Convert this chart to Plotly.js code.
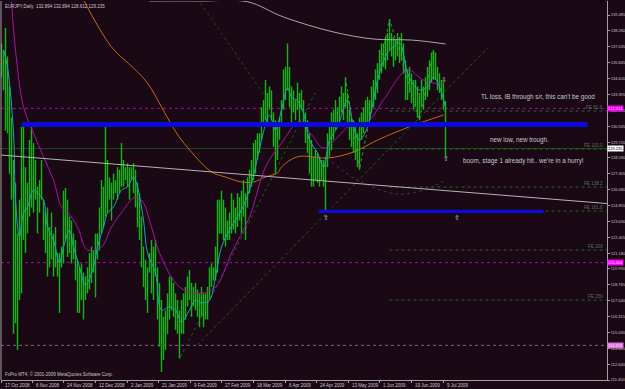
<!DOCTYPE html>
<html><head><meta charset="utf-8">
<script src="https://cdn.plot.ly/plotly-3.0.1.min.js"></script>
<style>html,body{margin:0;padding:0;background:#1a0814;}#c{width:625px;height:389px;}</style>
</head><body><div id="c"></div>
<script>
// ---- data (EURJPY daily, 17 Oct 2008 .. 9 Jul 2009) ----
const dateLabels = ["17 Oct 2008","6 Nov 2008","24 Nov 2008","12 Dec 2008","2 Jan 2009","21 Jan 2009","9 Feb 2009","27 Feb 2009","18 Mar 2009","6 Apr 2009","24 Apr 2009","13 May 2009","1 Jun 2009","19 Jun 2009","9 Jul 2009"];
const dateTickBar = [0,15.5,31,47,63,78.5,94.5,110,126,142,157.5,173.5,189,205,221];

const highs = [137.3,136.8,138.5,136.3,134.0,131.6,128.35,126.6,122.7,125.3,
130.9,130.9,127.8,126.6,129.9,130.9,129.65,128.35,126.3,126.8,
128.35,125.3,124.3,124.7,123.2,124.3,122.7,123.2,121.2,121.2,
121.7,126.0,126.2,125.3,124.0,123.7,122.7,122.2,120.7,120.1,
120.4,119.7,119.4,120.1,121.2,121.7,121.4,122.7,122.7,124.7,
126.8,126.3,131.0,128.35,127.0,126.6,127.3,126.8,127.8,127.6,
129.65,128.35,127.8,128.1,127.8,127.8,128.1,127.6,126.6,125.8,
124.0,121.7,120.7,120.1,121.2,122.2,121.7,122.2,120.1,118.9,
117.6,116.3,116.8,118.1,119.4,119.4,118.9,118.1,117.6,116.8,
117.6,118.1,118.6,119.4,119.9,118.9,118.6,118.9,118.4,118.1,
118.6,118.1,118.1,118.6,120.1,120.4,120.1,121.7,125.3,125.3,
126.0,125.3,124.7,123.7,124.3,125.8,125.3,124.7,125.8,125.5,
126.0,126.8,125.8,127.0,127.6,128.35,129.65,129.9,130.4,130.4,
132.4,132.95,134.5,133.5,134.0,133.7,132.0,131.4,130.9,131.6,
132.95,135.3,135.5,137.3,135.5,134.0,133.7,132.95,134.3,133.5,
133.7,132.95,132.0,131.4,130.4,129.9,128.6,129.1,128.9,128.6,
128.35,128.35,128.6,130.4,130.9,132.0,132.2,132.95,132.4,133.2,
134.0,133.5,134.7,133.5,132.2,131.6,131.4,130.9,130.4,131.6,
132.0,132.4,132.95,133.2,132.95,134.0,134.5,135.3,135.8,136.8,
137.3,137.3,137.8,138.1,139.18,138.1,137.8,137.6,138.1,137.8,
138.1,137.3,136.0,135.3,135.5,135.0,134.5,134.5,134.0,133.5,
134.5,134.0,134.7,135.5,136.0,136.6,136.8,136.6,135.5,135.0,
134.5,134.3,132.89];
const lows = [134.7,133.7,130.6,130.4,127.3,125.3,115.0,115.8,113.75,117.6,
118.1,122.2,121.2,122.7,124.0,124.7,124.3,125.3,122.7,124.3,
125.3,122.2,121.2,119.4,120.1,120.7,119.4,120.1,119.4,116.6,
120.1,120.4,122.2,120.9,121.2,120.4,120.7,119.1,116.6,116.6,
117.6,116.1,117.6,118.1,118.4,118.9,119.7,117.8,120.7,121.4,
122.7,123.2,124.0,124.3,125.3,123.7,125.3,125.8,125.3,125.8,
126.3,126.3,126.8,126.3,125.3,126.8,125.8,124.7,123.2,122.2,
120.1,118.6,117.6,116.6,119.7,118.1,117.6,119.4,116.1,114.0,
112.07,113.0,113.75,115.0,116.1,116.8,116.3,115.3,115.0,113.1,
115.0,115.0,116.1,117.1,117.6,116.3,117.1,116.8,116.3,115.5,
116.3,115.5,116.1,116.1,117.6,118.6,119.1,119.1,119.7,122.7,
122.7,122.2,121.7,122.2,122.2,122.7,123.0,122.7,123.2,123.7,
122.7,124.0,122.2,124.7,125.8,126.3,126.8,127.3,128.35,128.9,
129.9,130.9,131.4,130.9,132.2,131.4,129.35,127.3,128.35,129.9,
130.9,132.2,132.95,133.7,132.4,130.9,132.0,131.4,132.2,131.2,
132.2,130.9,129.65,128.9,127.3,126.3,126.3,126.8,126.6,126.3,
126.8,126.3,124.5,127.8,128.6,129.1,129.9,130.65,130.9,131.2,
132.0,131.4,132.4,130.9,129.9,129.35,128.9,128.35,127.8,127.6,
129.9,130.4,130.9,130.9,131.4,132.0,132.4,132.95,133.5,134.5,
135.0,135.5,135.3,136.0,136.8,136.3,135.5,136.0,136.3,135.8,
136.0,135.0,132.95,132.95,133.5,132.7,132.2,132.4,131.6,131.4,
132.4,132.2,132.95,133.2,133.7,134.3,134.5,134.5,133.7,133.5,
132.95,132.2,128.61];

// moving averages (sparse readings: bar index, price)
const fastMaBar = [1,3,6,7,9,11,13,16,18,21,23,26,29,31,34,36,39,42,46,48,51,53,56,60,63,66,68,71,73,77,80,84,87,90,94,97,100,104,107,110,114,117,120,124,127,130,134,137,140,143,145,148,151,154,158,161,164,168,173,176,179,183,186,189,193,196,199,203,206,209,213,216,219,222];
const fastMaVal = [136.8,135.49,130.42,125.27,122.43,124.28,124.74,126.04,125.81,125.27,123.2,122.2,120.44,121.67,122.97,121.67,120.13,118.75,120.13,121.67,123.2,124.28,124.74,126.04,126.27,127.04,126.27,123.74,121.2,119.67,116.83,117.06,116.83,115.9,116.83,117.59,117.36,117.59,119.36,121.67,122.97,123.74,124.51,126.04,127.81,129.88,131.8,130.65,132.19,133.88,133.19,132.9,131.96,129.88,128.89,127.81,129.88,130.88,132.96,130.88,129.88,130.88,132.96,135.03,136.57,137.03,137.33,135.03,134.11,133.72,133.95,134.72,133.95,132.42];
const midMaBar = [5,7,11,16,21,26,30,33,38,43,50,55,61,66,70,75,79,89,99,107,115,124,132,140,149,155,161,170,173,183,191,203,211,221];
const midMaVal = [140.5,136.8,132.42,130.42,128.58,126.81,124.74,124.35,123.2,121.43,121.67,123.2,124.51,125.43,125.27,123.2,121.2,118.59,118.13,118.59,121.2,123.97,127.81,129.65,131.3,130.3,129.27,130.42,130.88,131.27,132.96,135.26,134.49,134.11];
const slowMaBar = [41,55,66,73,80,86,90,105,112,120,126,132,138,140,148,163,176,188,205,221];
const slowMaVal = [140.64,137.03,135.41,134.26,132.42,130.8,129.88,127.43,127.04,126.66,126.66,127.04,127.35,127.81,128.6,128.5,128.96,129.88,130.96,131.8];
const longMaBar = [74,100,123,141,166,186,205,222];
const longMaVal = [140.56,140.56,140.5,139.33,138.18,137.64,137.56,137.26];
const dimMaBar = [165,178,198,214,222];
const dimMaVal = [128.2,126.81,125.73,126.2,126.81];
const zigzagBar = [172,179,194,209,216];
const zigzagVal = [134.7,127.6,139.18,131.4,136.8];

// drawn objects
const bandUpper = {x0:10, x1:293, y0:130.88, y1:131.27};
const bandLower = {x0:158.5, x1:271, y0:124.28, y1:124.52};
const greyTrend = {x0:-0.5, y0:128.73, x1:303, y1:125.0};
const trendA = {x0:89.5, y0:113.21, x1:157.5, y1:133.72};
const trendB = {x0:98, y0:114.14, x1:243, y1:136.95};
const trendC = {x0:99.5, y0:140.41, x1:132, y1:133.19};
const magentaLevels = [132.314, 120.464];
const pinkLevel = 114.113;
const bidPrice = 129.235;
const feNames = ["FE 61.8","FE 100.0","FE 138.2","FE 161.8","FE 200","FE 250"];
const feLevels = [132.11, 129.19, 126.27, 124.43, 121.43, 117.59];
const feStartBar = 194;

const yTickVals = [139.485,138.26,137.035,135.845,134.62,133.395,132.17,130.945,129.72,128.53,127.305,126.08,124.855,123.63,122.405,121.18,119.99,118.765,117.54,116.315,115.09,113.865,112.64,111.45];
const yTickText = ["139.485","138.260","137.035","135.845","134.620","133.395","132.170","130.945","129.720","128.530","127.305","126.080","124.855","123.630","122.405","121.180","119.990","118.765","117.540","116.315","115.090","113.865","112.640","111.450"];

const notes = [
  {text:"TL loss, IB through s/r, this can't be good", bar:268, price:133.2},
  {text:"new low, new trough.", bar:259, price:129.9},
  {text:"boom, stage 1 already hit.. we're in a hurry!", bar:261, price:128.3}
];
const arrows = [
  {sym:"⇧", bar:162, price:123.9},
  {sym:"⇧", bar:222, price:128.45},
  {sym:"⇧", bar:227.5, price:123.9},
  {sym:"⇩", bar:221, price:134.5}
];
const titleText = "EURJPY,Daily  132.894 132.894 128.612 129.235";
const footerText = "FxPro MT4, © 2001-2009 MetaQuotes Software Corp.";

// ---- build traces ----
const barIdx = highs.map((h,i)=>i);
const barLen = highs.map((h,i)=>h - lows[i]);

const traces = [
  {x:barIdx, y:barLen, base:lows, type:'bar', width:0.72, marker:{color:'#12b412', line:{width:0}}, hoverinfo:'skip'},
  {x:longMaBar, y:longMaVal, type:'scatter', mode:'lines', line:{color:'#a8a8a8', width:1, shape:'spline'}},
  {x:slowMaBar, y:slowMaVal, type:'scatter', mode:'lines', line:{color:'#c06a10', width:1, shape:'spline'}},
  {x:dimMaBar, y:dimMaVal, type:'scatter', mode:'lines', line:{color:'#5a2a5a', width:1, shape:'spline', dash:'dot'}},
  {x:midMaBar, y:midMaVal, type:'scatter', mode:'lines', line:{color:'#a812a8', width:1, shape:'spline'}},
  {x:zigzagBar, y:zigzagVal, type:'scatter', mode:'lines', line:{color:'#2f9a2f', width:1, dash:'dot'}},
  {x:fastMaBar, y:fastMaVal, type:'scatter', mode:'lines', line:{color:'#14aab4', width:1, shape:'spline'}}
];

const shapes = [
  {type:'rect', xref:'x', yref:'y', x0:bandUpper.x0, x1:bandUpper.x1, y0:bandUpper.y0, y1:bandUpper.y1, fillcolor:'#0c0cd8', line:{width:0}, layer:'above'},
  {type:'rect', xref:'x', yref:'y', x0:bandLower.x0, x1:bandLower.x1, y0:bandLower.y0, y1:bandLower.y1, fillcolor:'#0c0cd8', line:{width:0}, layer:'above'},
  {type:'line', xref:'paper', yref:'y', x0:0, x1:1, y0:bidPrice, y1:bidPrice, line:{color:'#1c4a1c', width:1}, layer:'below'},
  {type:'line', xref:'x', yref:'y', x0:greyTrend.x0, y0:greyTrend.y0, x1:greyTrend.x1, y1:greyTrend.y1, line:{color:'#b4b4b4', width:1}},
  {type:'line', xref:'x', yref:'y', x0:trendA.x0, y0:trendA.y0, x1:trendA.x1, y1:trendA.y1, line:{color:'#1f5a1f', width:1, dash:'dot'}, layer:'below'},
  {type:'line', xref:'x', yref:'y', x0:trendB.x0, y0:trendB.y0, x1:trendB.x1, y1:trendB.y1, line:{color:'#1f5a1f', width:1, dash:'dot'}, layer:'below'},
  {type:'line', xref:'x', yref:'y', x0:trendC.x0, y0:trendC.y0, x1:trendC.x1, y1:trendC.y1, line:{color:'#1f4a1f', width:1, dash:'dot'}, layer:'below'},
  {type:'line', xref:'paper', yref:'y', x0:0, x1:1, y0:pinkLevel, y1:pinkLevel, line:{color:'#8a5a8a', width:1, dash:'dot'}, layer:'below'},
  {type:'line', xref:'paper', yref:'paper', x0:0, x1:0, y0:0, y1:1, line:{color:'#a0a0a0', width:1}}
];
magentaLevels.forEach(p=>shapes.push({type:'line', xref:'paper', yref:'y', x0:0, x1:1, y0:p, y1:p, line:{color:'#b000b0', width:1, dash:'dot'}, layer:'below'}));
feLevels.forEach(p=>shapes.push({type:'line', xref:'x', yref:'y', x0:feStartBar, x1:302.7, y0:p, y1:p, line:{color:'#1f6a1f', width:1, dash:'dot'}, layer:'below'}));

const F = 'Liberation Sans, Arial, sans-serif';
const ann = [];
dateLabels.forEach((t,i)=>ann.push({text:t, x:dateTickBar[i], y:0, xref:'x', yref:'paper', xanchor:'left', yanchor:'top', xshift:1, yshift:-1, showarrow:false, font:{family:F, size:4.5, color:'#c8c8c8'}}));
feNames.forEach((t,i)=>ann.push({text:t, x:1, y:feLevels[i], xref:'paper', yref:'y', xanchor:'right', yanchor:'bottom', xshift:-2, yshift:-1, showarrow:false, font:{family:F, size:4.6, color:'#5e6e5e'}}));
notes.forEach(n=>ann.push({text:n.text, x:n.bar, y:n.price, xref:'x', yref:'y', xanchor:'center', yanchor:'middle', showarrow:false, font:{family:F, size:6.3, color:'#c8c8c8'}}));
arrows.forEach(a=>ann.push({text:a.sym, x:a.bar, y:a.price, xref:'x', yref:'y', showarrow:false, font:{family:'DejaVu Sans', size:7, color:'#d0d0d0'}}));
const boxes = [
  {p:magentaLevels[0], bg:'#ff00ff', fg:'#ffd0ff'},
  {p:bidPrice, bg:'#ffffff', fg:'#000000'},
  {p:magentaLevels[1], bg:'#ff00ff', fg:'#ffd0ff'},
  {p:pinkLevel, bg:'#e070e0', fg:'#ffe0ff'}
];
boxes.forEach(b=>ann.push({text:b.p.toFixed(3), x:1, y:b.p, xref:'paper', yref:'y', xanchor:'left', yanchor:'middle', xshift:0, showarrow:false, bgcolor:b.bg, borderpad:0, font:{family:F, size:4, color:b.fg}}));
ann.push({text:titleText, x:0, y:1, xref:'paper', yref:'paper', xanchor:'left', yanchor:'top', xshift:2, yshift:-1, showarrow:false, font:{family:F, size:4.5, color:'#c8c8c8'}});
ann.push({text:footerText, x:0, y:0, xref:'paper', yref:'paper', xanchor:'left', yanchor:'bottom', xshift:2, yshift:1, showarrow:false, font:{family:F, size:4.5, color:'#c8c8c8'}});

const layout = {
  width:625, height:389,
  margin:{l:1, r:18, t:1, b:9, pad:0},
  paper_bgcolor:'#1a0814', plot_bgcolor:'#1a0814',
  showlegend:false, barmode:'overlay',
  xaxis:{range:[-0.25,302.75], showgrid:false, zeroline:false, showline:true, linecolor:'#a0a0a0', linewidth:1,
         ticks:'outside', ticklen:2, tickcolor:'#a0a0a0', tickvals:dateTickBar, showticklabels:false, fixedrange:true},
  yaxis:{range:[111.45,140.56], side:'right', showgrid:false, zeroline:false, showline:true, linecolor:'#a0a0a0', linewidth:1,
         ticks:'outside', ticklen:2, tickcolor:'#a0a0a0', tickvals:yTickVals, ticktext:yTickText, ticklabelstandoff:0,
         tickfont:{family:F, size:4, color:'#c8c8c8'}, fixedrange:true},
  shapes:shapes, annotations:ann
};
Plotly.newPlot('c', traces, layout, {staticPlot:true, displayModeBar:false});
</script></body></html>
